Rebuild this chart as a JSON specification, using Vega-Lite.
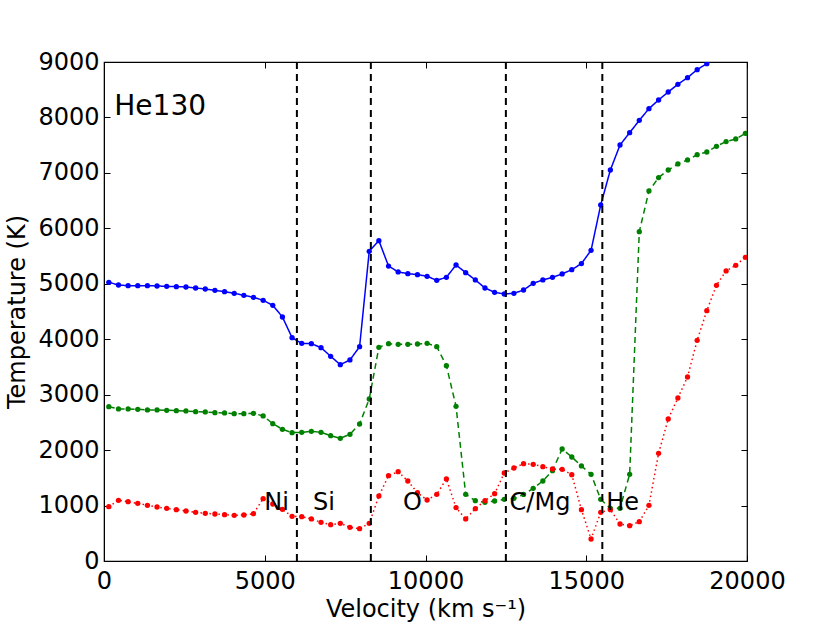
{
  "$schema": "https://vega.github.io/schema/vega-lite/v6.json",
  "width": 643,
  "height": 499,
  "autosize": {"type": "none"},
  "padding": {"left": 104, "top": 62, "right": 83, "bottom": 62},
  "background": "white",
  "config": {
    "font": "DejaVu Sans",
    "view": {"stroke": "black", "strokeWidth": 1.2},
    "axis": {
      "grid": false,
      "domainColor": "black",
      "tickColor": "black",
      "labelColor": "black",
      "titleColor": "black",
      "labelFont": "DejaVu Sans",
      "titleFont": "DejaVu Sans",
      "labelFontSize": 24,
      "titleFontSize": 24,
      "titleFontWeight": "normal",
      "tickSize": -6,
      "tickWidth": 1
    }
  },
  "datasets": {
    "bounds": [{"v": 6000}, {"v": 8300}, {"v": 12500}, {"v": 15500}],
    "zones": [
      {"label": "Ni", "v": 5371, "T": 1052},
      {"label": "Si", "v": 6843, "T": 1052},
      {"label": "O", "v": 9590, "T": 1052},
      {"label": "C/Mg", "v": 13561, "T": 1052},
      {"label": "He", "v": 16133, "T": 1052}
    ],
    "series": [
      {"m": "b", "v": 150, "T": 5027}, {"m": "b", "v": 450, "T": 4978}, {"m": "b", "v": 750, "T": 4966},
      {"m": "b", "v": 1050, "T": 4966}, {"m": "b", "v": 1350, "T": 4966}, {"m": "b", "v": 1650, "T": 4960},
      {"m": "b", "v": 1950, "T": 4954}, {"m": "b", "v": 2250, "T": 4948}, {"m": "b", "v": 2550, "T": 4942},
      {"m": "b", "v": 2850, "T": 4924}, {"m": "b", "v": 3150, "T": 4906}, {"m": "b", "v": 3450, "T": 4882},
      {"m": "b", "v": 3750, "T": 4858}, {"m": "b", "v": 4050, "T": 4828}, {"m": "b", "v": 4350, "T": 4792},
      {"m": "b", "v": 4650, "T": 4756}, {"m": "b", "v": 4950, "T": 4702}, {"m": "b", "v": 5250, "T": 4612},
      {"m": "b", "v": 5550, "T": 4401}, {"m": "b", "v": 5850, "T": 4028}, {"m": "b", "v": 6150, "T": 3926},
      {"m": "b", "v": 6450, "T": 3920}, {"m": "b", "v": 6750, "T": 3848}, {"m": "b", "v": 7050, "T": 3692},
      {"m": "b", "v": 7350, "T": 3541}, {"m": "b", "v": 7650, "T": 3626}, {"m": "b", "v": 7950, "T": 3865},
      {"m": "b", "v": 8250, "T": 5586}, {"m": "b", "v": 8550, "T": 5778}, {"m": "b", "v": 8850, "T": 5320},
      {"m": "b", "v": 9150, "T": 5213}, {"m": "b", "v": 9450, "T": 5183}, {"m": "b", "v": 9750, "T": 5165},
      {"m": "b", "v": 10050, "T": 5135}, {"m": "b", "v": 10350, "T": 5063}, {"m": "b", "v": 10650, "T": 5117},
      {"m": "b", "v": 10950, "T": 5339}, {"m": "b", "v": 11250, "T": 5201}, {"m": "b", "v": 11550, "T": 5069},
      {"m": "b", "v": 11850, "T": 4924}, {"m": "b", "v": 12150, "T": 4846}, {"m": "b", "v": 12450, "T": 4816},
      {"m": "b", "v": 12750, "T": 4828}, {"m": "b", "v": 13050, "T": 4888}, {"m": "b", "v": 13350, "T": 5009},
      {"m": "b", "v": 13650, "T": 5069}, {"m": "b", "v": 13950, "T": 5117}, {"m": "b", "v": 14250, "T": 5177},
      {"m": "b", "v": 14550, "T": 5255}, {"m": "b", "v": 14850, "T": 5364}, {"m": "b", "v": 15150, "T": 5604},
      {"m": "b", "v": 15450, "T": 6421}, {"m": "b", "v": 15750, "T": 7052}, {"m": "b", "v": 16050, "T": 7503},
      {"m": "b", "v": 16350, "T": 7725}, {"m": "b", "v": 16650, "T": 7948}, {"m": "b", "v": 16950, "T": 8159},
      {"m": "b", "v": 17250, "T": 8315}, {"m": "b", "v": 17550, "T": 8459}, {"m": "b", "v": 17850, "T": 8598},
      {"m": "b", "v": 18150, "T": 8718}, {"m": "b", "v": 18450, "T": 8862}, {"m": "b", "v": 18750, "T": 8970},
      {"m": "b", "v": 19050, "T": 9100}, {"m": "b", "v": 19350, "T": 9230}, {"m": "b", "v": 19650, "T": 9350},
      {"m": "b", "v": 19950, "T": 9470},

      {"m": "g", "v": 150, "T": 2783}, {"m": "g", "v": 450, "T": 2742}, {"m": "g", "v": 750, "T": 2742},
      {"m": "g", "v": 1050, "T": 2736}, {"m": "g", "v": 1350, "T": 2724}, {"m": "g", "v": 1650, "T": 2724},
      {"m": "g", "v": 1950, "T": 2718}, {"m": "g", "v": 2250, "T": 2712}, {"m": "g", "v": 2550, "T": 2706},
      {"m": "g", "v": 2850, "T": 2694}, {"m": "g", "v": 3150, "T": 2688}, {"m": "g", "v": 3450, "T": 2676},
      {"m": "g", "v": 3750, "T": 2670}, {"m": "g", "v": 4050, "T": 2658}, {"m": "g", "v": 4350, "T": 2658},
      {"m": "g", "v": 4650, "T": 2664}, {"m": "g", "v": 4950, "T": 2616}, {"m": "g", "v": 5250, "T": 2477},
      {"m": "g", "v": 5550, "T": 2375}, {"m": "g", "v": 5850, "T": 2315}, {"m": "g", "v": 6150, "T": 2321},
      {"m": "g", "v": 6450, "T": 2339}, {"m": "g", "v": 6750, "T": 2321}, {"m": "g", "v": 7050, "T": 2261},
      {"m": "g", "v": 7350, "T": 2213}, {"m": "g", "v": 7650, "T": 2285}, {"m": "g", "v": 7950, "T": 2471},
      {"m": "g", "v": 8250, "T": 2922}, {"m": "g", "v": 8550, "T": 3854}, {"m": "g", "v": 8850, "T": 3920},
      {"m": "g", "v": 9150, "T": 3908}, {"m": "g", "v": 9450, "T": 3908}, {"m": "g", "v": 9750, "T": 3914},
      {"m": "g", "v": 10050, "T": 3926}, {"m": "g", "v": 10350, "T": 3865}, {"m": "g", "v": 10650, "T": 3523},
      {"m": "g", "v": 10950, "T": 2790}, {"m": "g", "v": 11250, "T": 1203}, {"m": "g", "v": 11550, "T": 1088},
      {"m": "g", "v": 11850, "T": 1058}, {"m": "g", "v": 12150, "T": 1082}, {"m": "g", "v": 12450, "T": 1112},
      {"m": "g", "v": 12750, "T": 1130}, {"m": "g", "v": 13050, "T": 1200}, {"m": "g", "v": 13350, "T": 1311},
      {"m": "g", "v": 13650, "T": 1443}, {"m": "g", "v": 13950, "T": 1629}, {"m": "g", "v": 14250, "T": 2020},
      {"m": "g", "v": 14550, "T": 1876}, {"m": "g", "v": 14850, "T": 1714}, {"m": "g", "v": 15150, "T": 1564},
      {"m": "g", "v": 15450, "T": 1112}, {"m": "g", "v": 15750, "T": 950}, {"m": "g", "v": 16050, "T": 950},
      {"m": "g", "v": 16350, "T": 1564}, {"m": "g", "v": 16650, "T": 5940}, {"m": "g", "v": 16950, "T": 6674},
      {"m": "g", "v": 17250, "T": 6915}, {"m": "g", "v": 17550, "T": 7052}, {"m": "g", "v": 17850, "T": 7161},
      {"m": "g", "v": 18150, "T": 7233}, {"m": "g", "v": 18450, "T": 7329}, {"m": "g", "v": 18750, "T": 7377},
      {"m": "g", "v": 19050, "T": 7480}, {"m": "g", "v": 19350, "T": 7564}, {"m": "g", "v": 19650, "T": 7612},
      {"m": "g", "v": 19950, "T": 7713},

      {"m": "r", "v": 150, "T": 980}, {"m": "r", "v": 450, "T": 1095}, {"m": "r", "v": 750, "T": 1070},
      {"m": "r", "v": 1050, "T": 1040}, {"m": "r", "v": 1350, "T": 1004}, {"m": "r", "v": 1650, "T": 974},
      {"m": "r", "v": 1950, "T": 950}, {"m": "r", "v": 2250, "T": 926}, {"m": "r", "v": 2550, "T": 902},
      {"m": "r", "v": 2850, "T": 878}, {"m": "r", "v": 3150, "T": 860}, {"m": "r", "v": 3450, "T": 848},
      {"m": "r", "v": 3750, "T": 836}, {"m": "r", "v": 4050, "T": 824}, {"m": "r", "v": 4350, "T": 830},
      {"m": "r", "v": 4650, "T": 854}, {"m": "r", "v": 4950, "T": 1124}, {"m": "r", "v": 5250, "T": 1028},
      {"m": "r", "v": 5550, "T": 932}, {"m": "r", "v": 5850, "T": 806}, {"m": "r", "v": 6150, "T": 800},
      {"m": "r", "v": 6450, "T": 758}, {"m": "r", "v": 6750, "T": 698}, {"m": "r", "v": 7050, "T": 655},
      {"m": "r", "v": 7350, "T": 680}, {"m": "r", "v": 7650, "T": 608}, {"m": "r", "v": 7950, "T": 583},
      {"m": "r", "v": 8250, "T": 680}, {"m": "r", "v": 8550, "T": 1172}, {"m": "r", "v": 8850, "T": 1539},
      {"m": "r", "v": 9150, "T": 1611}, {"m": "r", "v": 9450, "T": 1443}, {"m": "r", "v": 9750, "T": 1232},
      {"m": "r", "v": 10050, "T": 1100}, {"m": "r", "v": 10350, "T": 1203}, {"m": "r", "v": 10650, "T": 1479},
      {"m": "r", "v": 10950, "T": 962}, {"m": "r", "v": 11250, "T": 758}, {"m": "r", "v": 11550, "T": 944},
      {"m": "r", "v": 11850, "T": 1088}, {"m": "r", "v": 12150, "T": 1214}, {"m": "r", "v": 12450, "T": 1587},
      {"m": "r", "v": 12750, "T": 1677}, {"m": "r", "v": 13050, "T": 1755}, {"m": "r", "v": 13350, "T": 1744},
      {"m": "r", "v": 13650, "T": 1701}, {"m": "r", "v": 13950, "T": 1659}, {"m": "r", "v": 14250, "T": 1653},
      {"m": "r", "v": 14550, "T": 1557}, {"m": "r", "v": 14850, "T": 926}, {"m": "r", "v": 15150, "T": 397},
      {"m": "r", "v": 15450, "T": 878}, {"m": "r", "v": 15750, "T": 926}, {"m": "r", "v": 16050, "T": 667},
      {"m": "r", "v": 16350, "T": 637}, {"m": "r", "v": 16650, "T": 709}, {"m": "r", "v": 16950, "T": 1004},
      {"m": "r", "v": 17250, "T": 1943}, {"m": "r", "v": 17550, "T": 2561}, {"m": "r", "v": 17850, "T": 2940},
      {"m": "r", "v": 18150, "T": 3319}, {"m": "r", "v": 18450, "T": 3981}, {"m": "r", "v": 18750, "T": 4515},
      {"m": "r", "v": 19050, "T": 4973}, {"m": "r", "v": 19350, "T": 5231}, {"m": "r", "v": 19650, "T": 5333},
      {"m": "r", "v": 19950, "T": 5478}
    ]
  },
  "resolve": {"axis": {"x": "independent", "y": "independent"}},
  "layer": [
    {
      "data": {"name": "series"},
      "mark": {"type": "line", "clip": true, "strokeWidth": 1.5},
      "encoding": {
        "x": {
          "field": "v", "type": "quantitative",
          "scale": {"domain": [0, 20000], "nice": false},
          "axis": {"title": "Velocity (km s⁻¹)", "format": "d", "values": [0, 5000, 10000, 15000, 20000], "labelPadding": 14, "titlePadding": 4, "labelFlush": false}
        },
        "y": {
          "field": "T", "type": "quantitative",
          "scale": {"domain": [0, 9000], "nice": false},
          "axis": {"title": "Temperature (K)", "format": "d", "values": [0, 1000, 2000, 3000, 4000, 5000, 6000, 7000, 8000, 9000], "labelPadding": 11, "titlePadding": 8, "labelFlush": false}
        },
        "color": {"field": "m", "type": "nominal", "scale": {"domain": ["b", "g", "r"], "range": ["#0000ff", "#008000", "#ff0000"]}, "legend": null},
        "strokeDash": {"field": "m", "type": "nominal", "scale": {"domain": ["b", "g", "r"], "range": [[1, 0], [6, 4], [1.5, 3]]}, "legend": null}
      }
    },
    {
      "data": {"name": "series"},
      "mark": {"type": "point", "filled": true, "opacity": 1, "size": 28, "clip": true},
      "encoding": {
        "x": {"field": "v", "type": "quantitative", "axis": null},
        "y": {"field": "T", "type": "quantitative", "axis": null},
        "color": {"field": "m", "type": "nominal", "legend": null}
      }
    },
    {
      "data": {"name": "bounds"},
      "mark": {"type": "rule", "color": "black", "strokeWidth": 2, "strokeDash": [7, 5]},
      "encoding": {
        "x": {"field": "v", "type": "quantitative", "axis": null}
      }
    },
    {
      "data": {"name": "zones"},
      "mark": {"type": "text", "fontSize": 24, "color": "black", "align": "center", "baseline": "middle"},
      "encoding": {
        "x": {"field": "v", "type": "quantitative", "axis": null},
        "y": {"field": "T", "type": "quantitative", "axis": null},
        "text": {"field": "label"}
      }
    },
    {
      "data": {"values": [{"label": "He130", "v": 320, "T": 8194}]},
      "mark": {"type": "text", "fontSize": 28, "color": "black", "align": "left", "baseline": "middle"},
      "encoding": {
        "x": {"field": "v", "type": "quantitative", "axis": {"orient": "top", "labels": false, "title": null, "domain": false, "values": [0, 5000, 10000, 15000, 20000]}},
        "y": {"field": "T", "type": "quantitative", "axis": {"orient": "right", "labels": false, "title": null, "domain": false, "values": [0, 1000, 2000, 3000, 4000, 5000, 6000, 7000, 8000, 9000]}},
        "text": {"field": "label"}
      }
    }
  ]
}
